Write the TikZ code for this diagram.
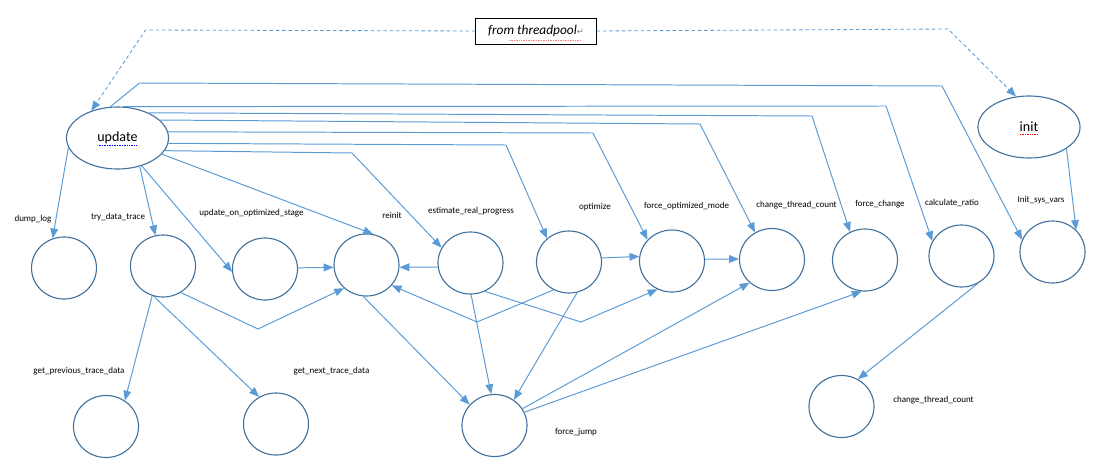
\documentclass[tikz,border=0pt]{standalone}
\usepackage{fontspec}
\setmainfont{Carlito}
\newfontfamily\symfont{DejaVu Sans}
\usetikzlibrary{shapes.geometric,arrows.meta,calc}
\definecolor{callblue}{HTML}{5B9BD5}
\definecolor{ringblue}{HTML}{41719C}
\begin{document}
\begin{tikzpicture}[x=0.025cm,y=-0.025cm,
    func/.style={draw=ringblue,line width=0.8pt,ellipse,minimum width=1.625cm,minimum height=1.55cm,inner sep=0pt},
    entry/.style={func,minimum width=2.55cm,font=\fontsize{10}{12}\selectfont},
    fname/.style={font=\fontsize{6.4}{7.5}\selectfont,inner sep=0pt},
    call/.style={callblue,line width=0.7pt,-{Triangle[length=7pt,width=5.5pt]}},
    hook/.style={call,line width=0.6pt,dash pattern=on 2.5pt off 2pt},
    spell/.style={line width=0.6pt,dash pattern=on 0.6pt off 0.6pt}]
        \useasboundingbox (0,0) rectangle (1093,467);

        \node[draw,line width=0.7pt,minimum width=3cm,minimum height=0.65cm,inner sep=0pt,font=\fontsize{9.5}{11}\selectfont\itshape] (pool) at (536,31) {from threadpool{\symfont\color{gray}\fontsize{6}{7}\selectfont ↵}}; %pool

        \node[entry] (update) at (117.5,138) {update}; %update
        \node[entry] (init) at (1029,127) {init}; %init

        \node[func] (dump) at (64,268) {}; %dump_log
        \node[func] (try) at (163,266) {}; %try_data_trace
        \node[func] (uoo) at (265,269) {}; %update_on_optimized_stage
        \node[func] (reinit) at (366.5,265) {}; %reinit
        \node[func] (estimate) at (470.5,263) {}; %estimate_real_progress
        \node[func] (optimize) at (569,262) {}; %optimize
        \node[func] (fom) at (672,261) {}; %force_optimized_mode
        \node[func] (ctc) at (772,259.5) {}; %change_thread_count
        \node[func] (fchange) at (865,260) {}; %force_change
        \node[func] (ratio) at (961.5,256) {}; %calculate_ratio
        \node[func] (sysvars) at (1052.5,252) {}; %init_sys_vars
        \node[func] (prevtrace) at (106,426.5) {}; %get_previous_trace_data
        \node[func] (nexttrace) at (276,424) {}; %get_next_trace_data
        \node[func] (jump) at (494.5,425.5) {}; %force_jump
        \node[func] (ctc2) at (841.5,406.5) {}; %change_thread_count

        \node[fname] (l-dump) at (33,219) {dump\_log};
        \node[fname] (l-try) at (118,217) {try\_data\_trace};
        \node[fname] (l-uoo) at (251.5,213) {update\_on\_optimized\_stage};
        \node[fname] (l-reinit) at (392,215) {reinit};
        \node[fname] (l-estimate) at (471,211) {estimate\_real\_progress};
        \node[fname] (l-optimize) at (595,207) {optimize};
        \node[fname] (l-fom) at (686.5,206) {force\_optimized\_mode};
        \node[fname] (l-ctc) at (796.5,205) {change\_thread\_count};
        \node[fname] (l-fchange) at (880,204) {force\_change};
        \node[fname] (l-ratio) at (952,203) {calculate\_ratio};
        \node[fname] (l-sysvars) at (1041,200) {Init\_sys\_vars};
        \node[fname] (l-prevtrace) at (79,371) {get\_previous\_trace\_data};
        \node[fname] (l-nexttrace) at (331.5,371) {get\_next\_trace\_data};
        \node[fname] (l-jump) at (576,432) {force\_jump};
        \node[fname] (l-ctc2) at (933.5,400) {change\_thread\_count};

        % spelling marks
        \draw[spell,blue] ($(update.center)+(-19,7)$) -- ($(update.center)+(19,7)$);
        \draw[spell,red] ($(init.center)+(-9,7)$) -- ($(init.center)+(9,7)$);
        \draw[spell,red!50] ($(pool.center)+(-27,9)$) -- ($(pool.center)+(44,9)$);

        % threadpool hooks
        \draw[hook] (pool.west) -- (145.6,30) -- (update.134);
        \draw[hook] (pool.east) -- (948,29) -- (init.113);

        % calls from update
        \draw[call] (update.103) -- (139.6,83) -- (942,86) -- (sysvars.158);
        \draw[call] (update.80) -- (886,106) -- (ratio.153);
        \draw[call] (update.39) -- (812,116) -- (fchange.118);
        \draw[call] (update.23) -- (700,124) -- (ctc.122);
        \draw[call] (update.7) -- (593,133) -- (fom.139);
        \draw[call] (update.-6) -- (506,145) -- (optimize.133);
        \draw[call] (update.-15) -- (352,153) -- (estimate.152);
        \draw[call] (update.-20) -- (reinit.78);
        \draw[call] (update.-49) -- (uoo.185);
        \draw[call] (update.-52) -- (try.104);
        \draw[call] (update.191) -- (dump.111);
        \draw[call] (init.-30) -- (sysvars.43);

        % second level
        \draw[call] (try.250) -- (prevtrace.54);
        \draw[call] (try.253) -- (nexttrace.122);
        \draw[call] (try.-56) -- (258,329) -- (reinit.226);
        \draw[call] (uoo.2) -- (reinit.184);
        \draw[call] (estimate.187) -- (reinit.-4);
        \draw[call] (reinit.264) -- (jump.140);
        \draw[call] (optimize.241) -- (477,322) -- (reinit.-39);
        \draw[call] (estimate.-63) -- (581,322) -- (fom.243);
        \draw[call] (estimate.-89) -- (jump.96);
        \draw[call] (optimize.-75) -- (jump.53);
        \draw[call] (optimize.7) -- (fom.172);
        \draw[call] (fom.3) -- (ctc.179);
        \draw[call] (jump.31) -- (ctc.226);
        \draw[call] (jump.24) -- (fchange.264);
        \draw[call] (ratio.-59) -- (ctc2.59);
    \end{tikzpicture}
\end{document}
